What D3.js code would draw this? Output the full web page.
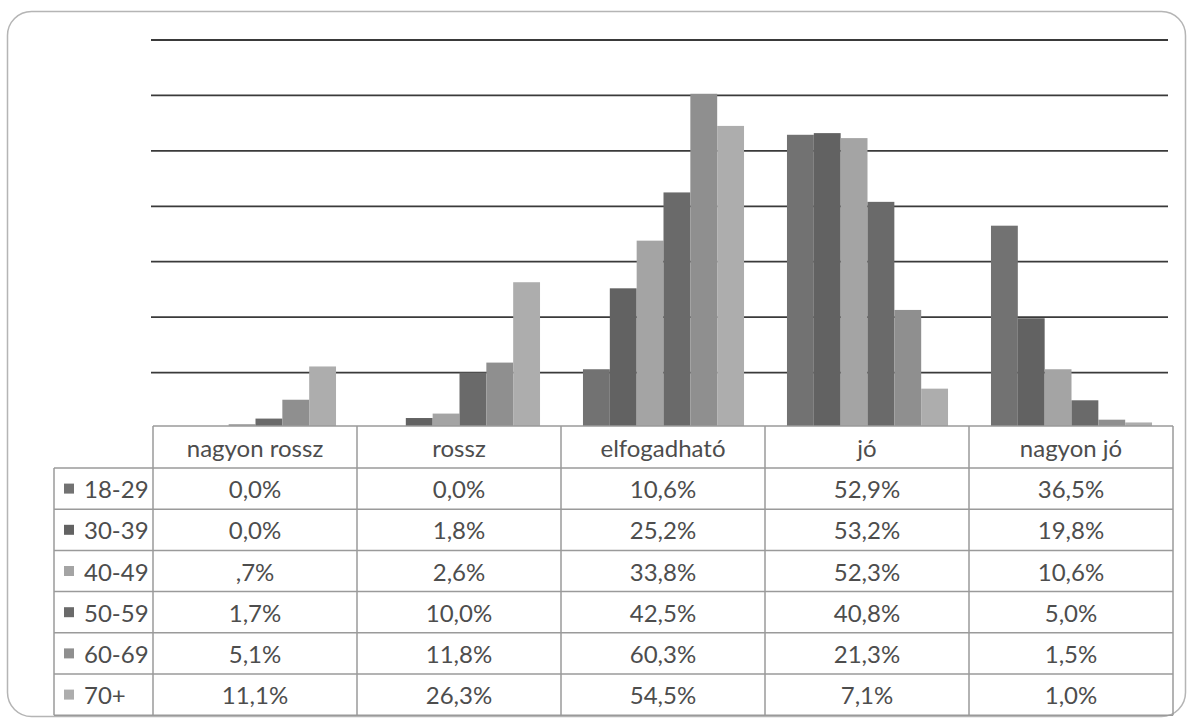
<!DOCTYPE html>
<html><head><meta charset="utf-8">
<script src="https://cdn.jsdelivr.net/npm/d3@7"></script>
<style>body{margin:0;background:#fff}svg{display:block}</style>
</head><body>
<script>
const categories = ["nagyon rossz","rossz","elfogadható","jó","nagyon jó"];
const seriesNames = ["18-29","30-39","40-49","50-59","60-69","70+"];
const seriesValues = [
  [0.0, 0.0, 10.6, 52.9, 36.5],
  [0.0, 1.8, 25.2, 53.2, 19.8],
  [0.7, 2.6, 33.8, 52.3, 10.6],
  [1.7, 10.0, 42.5, 40.8, 5.0],
  [5.1, 11.8, 60.3, 21.3, 1.5],
  [11.1, 26.3, 54.5, 7.1, 1.0]
];
const cellLabels = [
  ["0,0%","0,0%","10,6%","52,9%","36,5%"],
  ["0,0%","1,8%","25,2%","53,2%","19,8%"],
  [",7%","2,6%","33,8%","52,3%","10,6%"],
  ["1,7%","10,0%","42,5%","40,8%","5,0%"],
  ["5,1%","11,8%","60,3%","21,3%","1,5%"],
  ["11,1%","26,3%","54,5%","7,1%","1,0%"]
];
const gridTicks = [10,20,30,40,50,60,70];
const colors = ["#727272","#626262","#a4a4a4","#6a6a6a","#8f8f8f","#adadad"];

const W=1191,H=722;
const svg=d3.select("body").append("svg").attr("width",W).attr("height",H);
const font="Lato, 'Open Sans', sans-serif";
const fs=24, txtC="#4d4d4d";

// outer rounded frame
svg.append("rect").attr("x",7.5).attr("y",11.5).attr("width",1178).attr("height",705)
  .attr("rx",24).attr("fill","#fff").attr("stroke","#b5b5b5").attr("stroke-width",1.5);

const x=d3.scaleBand().domain(categories).range([153,1173]);
const xi=d3.scaleBand().domain(seriesNames).range([0,x.bandwidth()]).paddingOuter(0.8).paddingInner(0);
const y=d3.scaleLinear().domain([0,70]).range([428,40]);

// gridlines
svg.append("g").selectAll("line").data(gridTicks).join("line")
  .attr("x1",151).attr("x2",1168).attr("y1",d=>y(d)).attr("y2",d=>y(d))
  .attr("stroke","#3a3a3a").attr("stroke-width",1.8);

// bars
const g=svg.append("g");
seriesNames.forEach((s,si)=>{
  g.append("g").selectAll("rect").data(seriesValues[si]).join("rect")
    .attr("x",(d,i)=>x(categories[i])+xi(s)+0.5)
    .attr("width",xi.bandwidth())
    .attr("y",d=>y(d))
    .attr("height",d=>y(0)-y(d))
    .attr("fill",colors[si]);
});

// table
const tTop=426, hdrH=42, rowH=41.2, legL=54, tR=1173;
const t=svg.append("g");
t.append("rect").attr("x",153).attr("y",tTop).attr("width",tR-153).attr("height",hdrH).attr("fill","#fff");
const lineC="#9a9a9a";
t.append("line").attr("x1",153).attr("x2",tR).attr("y1",tTop).attr("y2",tTop).attr("stroke",lineC).attr("stroke-width",1.5);
d3.range(7).forEach(k=>{
  const yy=tTop+hdrH+k*rowH;
  t.append("line").attr("x1",legL).attr("x2",tR).attr("y1",yy).attr("y2",yy).attr("stroke",lineC).attr("stroke-width",1.5);
});
const tBot=tTop+hdrH+6*rowH;
t.append("line").attr("x1",legL).attr("x2",legL).attr("y1",tTop+hdrH).attr("y2",tBot).attr("stroke",lineC).attr("stroke-width",1.5);
categories.forEach(c=>{
  t.append("line").attr("x1",x(c)).attr("x2",x(c)).attr("y1",tTop).attr("y2",tBot).attr("stroke",lineC).attr("stroke-width",1.5);
});
t.append("line").attr("x1",tR).attr("x2",tR).attr("y1",tTop).attr("y2",tBot).attr("stroke",lineC).attr("stroke-width",1.5);

// header labels
t.selectAll("text.h").data(categories).join("text").attr("class","h")
  .attr("x",d=>x(d)+x.bandwidth()/2).attr("y",tTop+hdrH/2)
  .attr("text-anchor","middle").attr("dominant-baseline","central")
  .attr("font-family",font).attr("font-size",fs).attr("fill",txtC).text(d=>d);

// rows
seriesNames.forEach((s,si)=>{
  const cy=tTop+hdrH+si*rowH+rowH/2;
  t.append("rect").attr("x",64).attr("y",cy-5).attr("width",10).attr("height",10).attr("fill",colors[si]);
  t.append("text").attr("x",84).attr("y",cy).attr("dominant-baseline","central")
    .attr("font-family",font).attr("font-size",fs).attr("fill",txtC).text(s);
  t.append("g").selectAll("text").data(cellLabels[si]).join("text")
    .attr("x",(d,i)=>x(categories[i])+x.bandwidth()/2).attr("y",cy)
    .attr("text-anchor","middle").attr("dominant-baseline","central")
    .attr("font-family",font).attr("font-size",fs).attr("fill",txtC).text(d=>d);
});
</script>
</body></html>
